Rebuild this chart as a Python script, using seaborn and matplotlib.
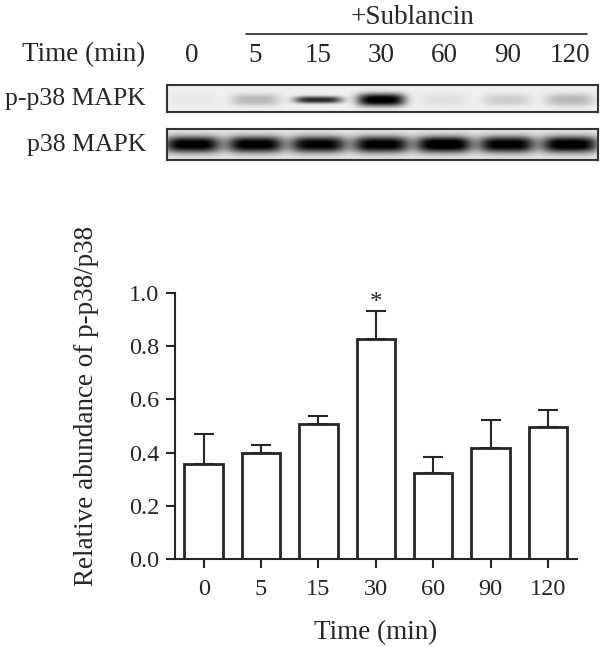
import numpy as np
import pandas as pd
import seaborn as sns
import matplotlib.pyplot as plt
from matplotlib.transforms import blended_transform_factory

# quantification (mean + SEM)
times = ["0", "5", "15", "30", "60", "90", "120"]
mean_ratio = [0.357, 0.400, 0.506, 0.825, 0.324, 0.419, 0.496]
sem_ratio = [0.112, 0.027, 0.032, 0.106, 0.060, 0.102, 0.064]
marks = ["", "", "", "*", "", "", ""]

# band darkness (0 = nothing, 1 = saturated)
pp38_band = [0.03, 0.22, 0.80, 1.00, 0.06, 0.14, 0.22]
p38_band = [0.95, 0.95, 0.92, 0.95, 1.00, 0.95, 0.97]

df = pd.DataFrame({"time": times, "ratio": mean_ratio, "sem": sem_ratio})

sns.set_theme(style="ticks")
plt.rcParams["font.family"] = ["Liberation Serif", "DejaVu Serif"]
ink = "#262626"

W, H = 600, 647
fig = plt.figure(figsize=(6, 6.47), dpi=100)


def fx(px):
    return px / W


def fy(py):
    return 1 - py / H


# ---- bar chart ----
ax = fig.add_axes([fx(175), fy(559.3), fx(576.7) - fx(175), fy(292.7) - fy(559.3)])
sns.barplot(data=df, x="time", y="ratio", color="white", edgecolor=ink,
            linewidth=2, width=0.67, errorbar=None, ax=ax)
for p in ax.patches:
    p.set_facecolor("white")
ax.errorbar(np.arange(len(times)), df["ratio"],
            yerr=[np.zeros(len(times)), df["sem"]], fmt="none",
            ecolor=ink, elinewidth=1.5, capsize=7.5, capthick=1.5)
for i, m in enumerate(marks):
    if m:
        ax.text(i, mean_ratio[i] + sem_ratio[i] + 0.03, m, ha="center", va="center",
                fontsize=18, color=ink, clip_on=False)

ax.set_xlim(-0.5, 6.5)
ax.set_ylim(0, 1.0)
ax.set_yticks([0, 0.2, 0.4, 0.6, 0.8, 1.0])
ax.set_yticklabels([f"{v:.1f}" for v in [0, 0.2, 0.4, 0.6, 0.8, 1.0]])
sns.despine(ax=ax)
for s in ["left", "bottom"]:
    ax.spines[s].set_linewidth(1.5)
    ax.spines[s].set_color(ink)
ax.tick_params(axis="both", width=1.5, length=6.5, color=ink, labelcolor=ink,
               labelsize=17.5)
ax.tick_params(axis="x", pad=8)
ax.tick_params(axis="y", pad=5)
ax.set_xlabel("Time (min)", fontsize=19.5, color=ink, labelpad=14)
ax.set_ylabel("Relative abundance of p-p38/p38", fontsize=19.5, color=ink)
ax.yaxis.set_label_coords(-0.19, 0.575)

# ---- western blot strips ----
lane_left, lane_right = -0.4, 6.44


def blot(ax_b, dark, bg, yc, hh, half_w):
    xs = np.linspace(lane_left, lane_right, 430)
    ys = np.linspace(1, 0, 60)
    X, Y = np.meshgrid(xs, ys)
    img = np.full_like(X, bg)
    for i, d in enumerate(dark):
        img += d * np.exp(-((X - i) / half_w) ** 4) * np.exp(-np.abs((Y - yc) / hh[i]) ** 2.5)
    img = np.clip(img, 0, 1)
    ax_b.imshow(img, cmap="gray_r", vmin=0, vmax=1, aspect="auto",
                extent=[lane_left, lane_right, 0, 1], interpolation="bilinear")
    ax_b.set_xlim(lane_left, lane_right)
    ax_b.set_ylim(0, 1)
    ax_b.set_xticks([])
    ax_b.set_yticks([])
    for s in ax_b.spines.values():
        s.set_linewidth(1.5)
        s.set_color("#333333")


ax_b1 = fig.add_axes([fx(167), fy(112), fx(598) - fx(167), fy(85) - fy(112)])
blot(ax_b1, pp38_band, 0.06, 0.45, [0.3, 0.22, 0.13, 0.24, 0.25, 0.22, 0.24], 0.38)
ax_b2 = fig.add_axes([fx(167), fy(160), fx(598) - fx(167), fy(129) - fy(160)])
blot(ax_b2, p38_band, 0.1, 0.5, [0.27] * 7, 0.45)

lane_tr = blended_transform_factory(ax_b1.transData, fig.transFigure)
for i, t in enumerate(times):
    fig.text(i, fy(55), t, transform=lane_tr, ha="center", va="center",
             fontsize=19.5, color=ink)
fig.text(fx(145), fy(55), "Time (min)", ha="right", va="center", fontsize=19.5, color=ink)
fig.text(fx(146), fy(99), "p-p38 MAPK", ha="right", va="center", fontsize=18.5, color=ink)
fig.text(fx(146), fy(145), "p38 MAPK", ha="right", va="center", fontsize=18.5, color=ink)
fig.text(fx(412), fy(17), "+Sublancin", ha="center", va="center", fontsize=19.5, color=ink)
fig.add_artist(plt.Line2D([fx(246), fx(587)], [fy(34), fy(34)], color=ink, lw=1.2))

fig.savefig("out.png", dpi=100)
